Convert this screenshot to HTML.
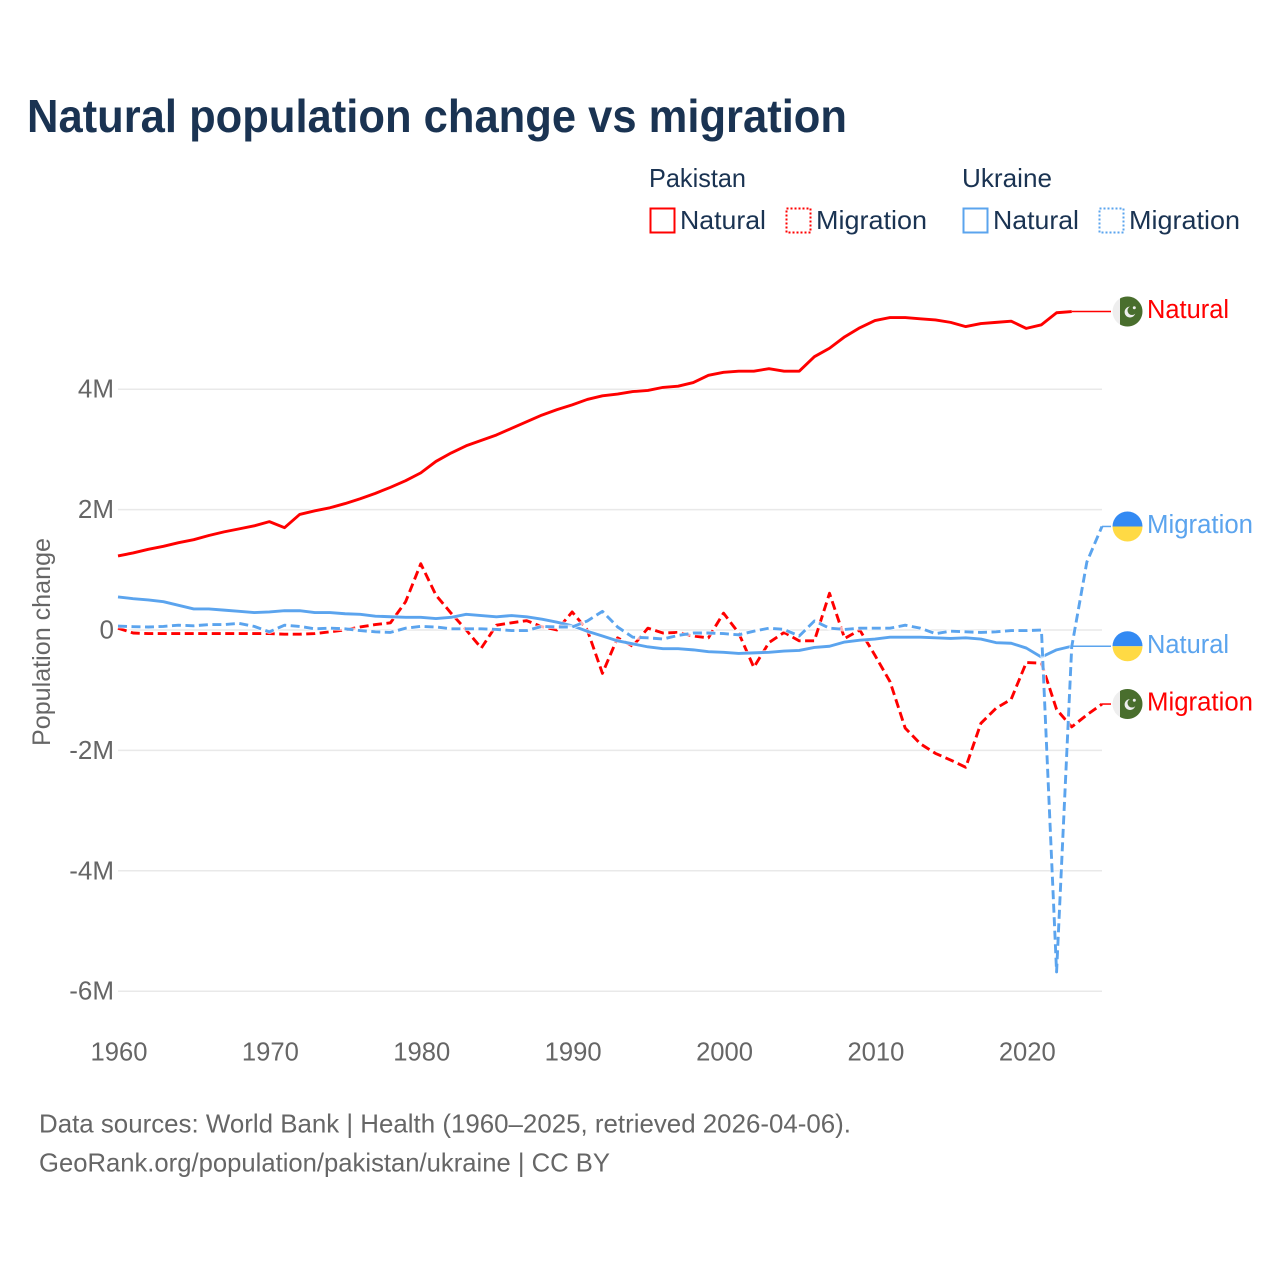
<!DOCTYPE html>
<html>
<head>
<meta charset="utf-8">
<title>Natural population change vs migration</title>
<style>
html,body{margin:0;padding:0;background:#fff}
svg{display:block}
text{font-family:"Liberation Sans",sans-serif}
</style>
</head>
<body>
<svg id="chart" xmlns="http://www.w3.org/2000/svg" width="1280" height="1280" viewBox="0 0 1280 1280">
<rect x="0" y="0" width="1280" height="1280" fill="#fff"/>
<text x="27" y="132" font-size="46" font-weight="700" fill="#1a3352" textLength="820" lengthAdjust="spacingAndGlyphs">Natural population change vs migration</text>

<g>
<text x="649" y="187" font-size="26" fill="#1a3352" textLength="97" lengthAdjust="spacingAndGlyphs">Pakistan</text>
<text x="962" y="187" font-size="26" fill="#1a3352" textLength="90" lengthAdjust="spacingAndGlyphs">Ukraine</text>
<rect x="650.5" y="208.5" width="24" height="24" fill="none" stroke="#ff0000" stroke-width="2"/>
<text x="680" y="229" font-size="26" fill="#1a3352" textLength="86" lengthAdjust="spacingAndGlyphs">Natural</text>
<rect x="786.5" y="208.5" width="24" height="24" fill="none" stroke="#ff0000" stroke-width="2" stroke-dasharray="2 2"/>
<text x="816" y="229" font-size="26" fill="#1a3352" textLength="111" lengthAdjust="spacingAndGlyphs">Migration</text>
<rect x="963.5" y="208.5" width="24" height="24" fill="none" stroke="#5ba4ee" stroke-width="2"/>
<text x="993" y="229" font-size="26" fill="#1a3352" textLength="86" lengthAdjust="spacingAndGlyphs">Natural</text>
<rect x="1099.5" y="208.5" width="24" height="24" fill="none" stroke="#5ba4ee" stroke-width="2" stroke-dasharray="2 2"/>
<text x="1129" y="229" font-size="26" fill="#1a3352" textLength="111" lengthAdjust="spacingAndGlyphs">Migration</text>
</g>

<g id="grid"></g>
<g id="yticks"></g>
<g id="xticks"></g>
<text transform="translate(50,746) rotate(-90)" font-size="25" fill="#666666" textLength="208" lengthAdjust="spacingAndGlyphs">Population change</text>
<g id="series"></g>
<g id="endlabels"></g>

<text x="39" y="1132.5" font-size="26" fill="#666666" textLength="812" lengthAdjust="spacingAndGlyphs">Data sources: World Bank | Health (1960–2025, retrieved 2026-04-06).</text>
<text x="39" y="1171.5" font-size="26" fill="#666666" textLength="571" lengthAdjust="spacingAndGlyphs">GeoRank.org/population/pakistan/ukraine | CC BY</text>
</svg>

<script>
const years = [1960,1961,1962,1963,1964,1965,1966,1967,1968,1969,1970,1971,1972,1973,1974,1975,1976,1977,1978,1979,1980,1981,1982,1983,1984,1985,1986,1987,1988,1989,1990,1991,1992,1993,1994,1995,1996,1997,1998,1999,2000,2001,2002,2003,2004,2005,2006,2007,2008,2009,2010,2011,2012,2013,2014,2015,2016,2017,2018,2019,2020,2021,2022,2023,2024,2025];

const pakistanNatural = [1.23,1.28,1.34,1.39,1.45,1.50,1.57,1.63,1.68,1.73,1.80,1.70,1.92,1.98,2.03,2.10,2.18,2.27,2.37,2.48,2.61,2.80,2.94,3.06,3.15,3.24,3.35,3.46,3.57,3.66,3.74,3.83,3.89,3.92,3.96,3.98,4.03,4.05,4.11,4.23,4.28,4.30,4.30,4.34,4.30,4.30,4.54,4.68,4.87,5.02,5.14,5.19,5.19,5.17,5.15,5.11,5.04,5.09,5.11,5.13,5.01,5.07,5.27,5.29];

const pakistanMigration = [0.03,-0.05,-0.06,-0.06,-0.06,-0.06,-0.06,-0.06,-0.06,-0.06,-0.06,-0.07,-0.07,-0.06,-0.03,0.00,0.05,0.09,0.12,0.47,1.10,0.58,0.28,0.00,-0.30,0.08,0.12,0.155,0.055,0.00,0.30,0.00,-0.72,-0.13,-0.27,0.03,-0.05,-0.04,-0.10,-0.13,0.28,-0.05,-0.62,-0.21,-0.04,-0.18,-0.18,0.61,-0.14,0.00,-0.42,-0.86,-1.63,-1.89,-2.05,-2.16,-2.28,-1.55,-1.30,-1.15,-0.54,-0.55,-1.32,-1.61,-1.41,-1.23];

const ukraineNatural = [0.55,0.52,0.50,0.47,0.41,0.35,0.35,0.33,0.31,0.29,0.30,0.32,0.32,0.29,0.29,0.27,0.26,0.23,0.22,0.21,0.21,0.19,0.21,0.26,0.24,0.22,0.24,0.22,0.18,0.13,0.07,-0.02,-0.10,-0.18,-0.23,-0.28,-0.31,-0.31,-0.33,-0.36,-0.37,-0.39,-0.38,-0.37,-0.35,-0.34,-0.29,-0.27,-0.20,-0.17,-0.15,-0.12,-0.12,-0.12,-0.13,-0.14,-0.13,-0.15,-0.21,-0.22,-0.30,-0.45,-0.33,-0.27];

const ukraineMigration = [0.065,0.055,0.05,0.06,0.08,0.07,0.09,0.09,0.11,0.06,-0.03,0.08,0.06,0.02,0.03,0.02,-0.01,-0.03,-0.04,0.03,0.06,0.05,0.02,0.02,0.02,0.01,-0.01,-0.01,0.06,0.05,0.05,0.15,0.31,0.05,-0.12,-0.13,-0.15,-0.09,-0.05,-0.05,-0.06,-0.08,-0.02,0.03,0.01,-0.10,0.15,0.03,0.01,0.03,0.03,0.03,0.08,0.03,-0.06,-0.02,-0.03,-0.04,-0.03,-0.01,-0.01,0.00,-5.68,-0.28,1.13,1.72];

const xTickValues = [1960,1970,1980,1990,2000,2010,2020];
const yTickValues = [4,2,0,-2,-4,-6];
const yTickLabels = ["4M","2M","0","-2M","-4M","-6M"];

const NS = "http://www.w3.org/2000/svg";
const X0 = 118, X1 = 1102, Y_ZERO = 630, Y_PER_M = 60.2;
function xScale(year){ return X0 + (year - 1960) * (X1 - X0) / 65; }
function yScale(v){ return Y_ZERO - v * Y_PER_M; }
function make(tag, attrs, parent){
  const el = document.createElementNS(NS, tag);
  for (const k in attrs) el.setAttribute(k, attrs[k]);
  parent.appendChild(el);
  return el;
}

const gridG = document.getElementById("grid");
const yG = document.getElementById("yticks");
const xG = document.getElementById("xticks");

yTickValues.forEach(function(v, i){
  const line = make("line", {x1:X0, x2:X1, y1:yScale(v), y2:yScale(v), stroke:"#e9e9e9", "stroke-width":1.5}, gridG);
  
  
  const t = make("text", {x:114, y:yScale(v)+8.5, "text-anchor":"end", "font-size":26, fill:"#666666"}, yG);
  
  
  t.textContent = yTickLabels[i];
});

xTickValues.forEach(function(yr){
  const t = make("text", {x:xScale(yr)+1, y:1060.5, "text-anchor":"middle", "font-size":25.6, fill:"#666666"}, xG);
  
  
  t.textContent = yr;
});

const RED = "#ff0000", BLUE = "#5ba4ee";
const seriesG = document.getElementById("series");
const labelsG = document.getElementById("endlabels");

function linePath(values){
  return values.map(function(v, i){ return (i ? "L" : "M") + xScale(years[i]).toFixed(2) + " " + yScale(v).toFixed(2); }).join("");
}

function drawSeries(values, color, dashed, name){
  const halo = make("path", {d:linePath(values), fill:"none", stroke:"#fff", "stroke-width":4.5, "stroke-linejoin":"round", opacity:0.7}, seriesG);
  
  
  const p = make("path", {d:linePath(values), fill:"none", stroke:color, "stroke-width":2.9, "stroke-linejoin":"round"}, seriesG);
  if (dashed) p.setAttribute("stroke-dasharray", "9 4.5");
  
  
}

function pakistanFlag(g){
  const base = make("circle", {cx:1127.5, cy:0, r:15, fill:"#eeeeee"}, g);
  
  
  const green = make("path", {d:"M1120 -13 A15 15 0 1 1 1120 13 Z", fill:"#496e2d"}, g);
  
  
  const outer = make("circle", {cx:1130, cy:0.5, r:5.4, fill:"#eeeeee"}, g);
  
  
  const inner = make("circle", {cx:1132, cy:-1, r:4.5, fill:"#496e2d"}, g);
  
  
  const star = make("circle", {cx:1134.3, cy:-3.8, r:1.5, fill:"#eeeeee"}, g);
  
  
}

function ukraineFlag(g){
  const top = make("path", {d:"M1112.5 0 A15 15 0 0 1 1142.5 0 Z", fill:"#338af3"}, g);
  
  
  const bottom = make("path", {d:"M1112.5 0 A15 15 0 0 0 1142.5 0 Z", fill:"#ffda44"}, g);
  
  
}

function drawEndLabel(values, color, dashed, text, width, flag, name){
  const lastIndex = values.length - 1;
  const lx = xScale(years[lastIndex]);
  const ly = yScale(values[lastIndex]);
  const conn = make("line", {x1:lx, x2:1111, y1:ly, y2:ly, stroke:color, "stroke-width":1.5}, labelsG);
  
  
  const fg = make("g", {transform:"translate(0," + ly + ")"}, labelsG);
  
  
  flag(fg);
  const t = make("text", {x:1147, y:ly+6.5, "font-size":25.5, fill:color, textLength:width, lengthAdjust:"spacingAndGlyphs"}, labelsG);
  
  
  t.textContent = text;
}

drawSeries(pakistanNatural, RED, false, "pakistan-natural");
drawSeries(pakistanMigration, RED, true, "pakistan-migration");
drawSeries(ukraineNatural, BLUE, false, "ukraine-natural");
drawSeries(ukraineMigration, BLUE, true, "ukraine-migration");

drawEndLabel(pakistanNatural, RED, false, "Natural", 82, pakistanFlag, "pakistan-natural");
drawEndLabel(pakistanMigration, RED, true, "Migration", 106, pakistanFlag, "pakistan-migration");
drawEndLabel(ukraineNatural, BLUE, false, "Natural", 82, ukraineFlag, "ukraine-natural");
drawEndLabel(ukraineMigration, BLUE, true, "Migration", 106, ukraineFlag, "ukraine-migration");
</script>
</body>
</html>
